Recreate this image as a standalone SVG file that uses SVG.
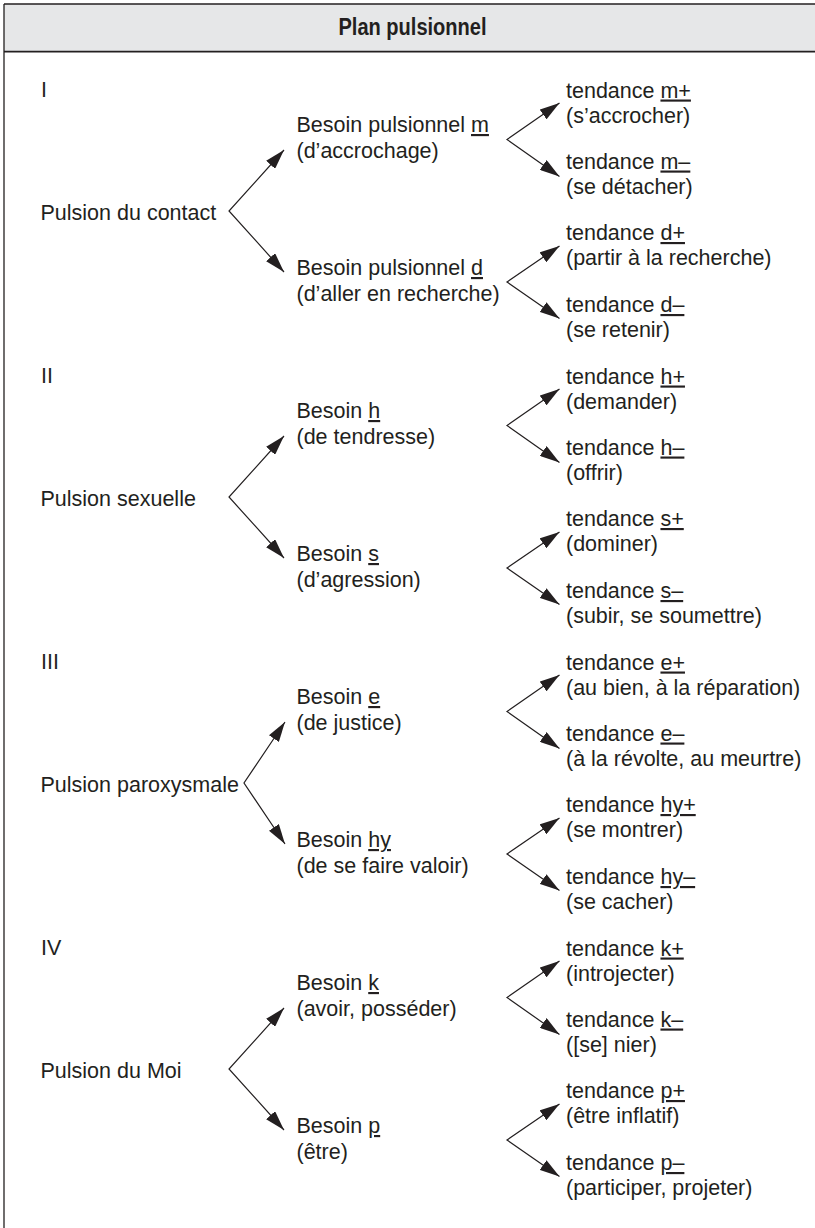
<svg xmlns="http://www.w3.org/2000/svg" width="815" height="1228" viewBox="0 0 815 1228">
<style>
.t { font-family: "Liberation Sans", Arial, sans-serif; font-size: 21.5px; fill: #231f20; }
.h { font-family: "Liberation Sans", Arial, sans-serif; font-size: 23px; font-weight: bold; fill: #231f20; }
.u { text-decoration: underline; }
.c { fill: none; stroke: #231f20; stroke-width: 1.2; stroke-linejoin: miter; marker-start: url(#ahs); marker-end: url(#ah); }
</style>
<defs>
<marker id="ah" markerUnits="userSpaceOnUse" markerWidth="20" markerHeight="12" viewBox="0 0 20 12" refX="20" refY="6" orient="auto">
<path d="M0,0 L20,6 L0,12 z" fill="#231f20"/>
</marker>
<marker id="ahs" markerUnits="userSpaceOnUse" markerWidth="20" markerHeight="12" viewBox="0 0 20 12" refX="20" refY="6" orient="auto-start-reverse">
<path d="M0,0 L20,6 L0,12 z" fill="#231f20"/>
</marker>
</defs>
<rect width="815" height="1228" fill="#ffffff"/>
<g id="frame">
<rect x="4" y="4" width="830" height="47.7" fill="#e6e7e8"/>
<line x1="4" y1="4" x2="815" y2="4" stroke="#231f20" stroke-width="1.5"/>
<line x1="4" y1="51.7" x2="815" y2="51.7" stroke="#231f20" stroke-width="1.8"/>
<line x1="4" y1="4" x2="4" y2="1228" stroke="#231f20" stroke-width="1.3"/>
</g>
<g id="title"><text class="h" x="412.5" y="35" text-anchor="middle" textLength="148" lengthAdjust="spacingAndGlyphs">Plan pulsionnel</text></g>

<g id="connectors">
<path class="c" d="M284,150 L229,211 L284,272"/>
<path class="c" d="M559.5,103 L507,139.5 L559.5,176.5"/>
<path class="c" d="M559.5,246 L507,282 L559.5,318.5"/>

<path class="c" d="M284,436 L229,497 L284,558"/>
<path class="c" d="M559.5,389 L507,425.5 L559.5,462.5"/>
<path class="c" d="M559.5,532 L507,568 L559.5,604.5"/>

<path class="c" d="M285,722 L244,783 L285,844"/>
<path class="c" d="M559.5,675 L507,711.5 L559.5,748.5"/>
<path class="c" d="M559.5,818 L507,854 L559.5,890.5"/>

<path class="c" d="M284,1008 L229,1069 L284,1130"/>
<path class="c" d="M559.5,961 L507,997.5 L559.5,1034.5"/>
<path class="c" d="M559.5,1104 L507,1140 L559.5,1176.5"/>
</g>

<!-- Section I -->
<g id="num-I"><text class="t" x="41" y="97">I</text></g>
<g id="pulsion-contact"><text class="t" x="40.5" y="220">Pulsion du contact</text></g>
<g id="besoin-m"><text class="t" x="296.5" y="132">Besoin pulsionnel <tspan class="u">m</tspan></text><text class="t" x="296.5" y="158">(d’accrochage)</text></g>
<g id="besoin-d"><text class="t" x="296.5" y="275">Besoin pulsionnel <tspan class="u">d</tspan></text><text class="t" x="296.5" y="301">(d’aller en recherche)</text></g>
<g id="tendance-m-plus"><text class="t" x="566" y="97.5">tendance <tspan class="u">m+</tspan></text><text class="t" x="566" y="123">(s’accrocher)</text></g>
<g id="tendance-m-minus"><text class="t" x="566" y="168.5">tendance <tspan class="u">m–</tspan></text><text class="t" x="566" y="193.5">(se détacher)</text></g>
<g id="tendance-d-plus"><text class="t" x="566" y="240">tendance <tspan class="u">d+</tspan></text><text class="t" x="566" y="265">(partir à la recherche)</text></g>
<g id="tendance-d-minus"><text class="t" x="566" y="312">tendance <tspan class="u">d–</tspan></text><text class="t" x="566" y="337">(se retenir)</text></g>

<!-- Section II -->
<g id="num-II"><text class="t" x="41" y="383">II</text></g>
<g id="pulsion-sexuelle"><text class="t" x="40.5" y="506">Pulsion sexuelle</text></g>
<g id="besoin-h"><text class="t" x="296.5" y="418">Besoin <tspan class="u">h</tspan></text><text class="t" x="296.5" y="444">(de tendresse)</text></g>
<g id="besoin-s"><text class="t" x="296.5" y="561">Besoin <tspan class="u">s</tspan></text><text class="t" x="296.5" y="587">(d’agression)</text></g>
<g id="tendance-h-plus"><text class="t" x="566" y="383.5">tendance <tspan class="u">h+</tspan></text><text class="t" x="566" y="409">(demander)</text></g>
<g id="tendance-h-minus"><text class="t" x="566" y="454.5">tendance <tspan class="u">h–</tspan></text><text class="t" x="566" y="479.5">(offrir)</text></g>
<g id="tendance-s-plus"><text class="t" x="566" y="526">tendance <tspan class="u">s+</tspan></text><text class="t" x="566" y="551">(dominer)</text></g>
<g id="tendance-s-minus"><text class="t" x="566" y="598">tendance <tspan class="u">s–</tspan></text><text class="t" x="566" y="623">(subir, se soumettre)</text></g>

<!-- Section III -->
<g id="num-III"><text class="t" x="41" y="669">III</text></g>
<g id="pulsion-paroxysmale"><text class="t" x="40.5" y="792">Pulsion paroxysmale</text></g>
<g id="besoin-e"><text class="t" x="296.5" y="704">Besoin <tspan class="u">e</tspan></text><text class="t" x="296.5" y="730">(de justice)</text></g>
<g id="besoin-hy"><text class="t" x="296.5" y="847">Besoin <tspan class="u">hy</tspan></text><text class="t" x="296.5" y="873">(de se faire valoir)</text></g>
<g id="tendance-e-plus"><text class="t" x="566" y="669.5">tendance <tspan class="u">e+</tspan></text><text class="t" x="566" y="695">(au bien, à la réparation)</text></g>
<g id="tendance-e-minus"><text class="t" x="566" y="740.5">tendance <tspan class="u">e–</tspan></text><text class="t" x="566" y="765.5">(à la révolte, au meurtre)</text></g>
<g id="tendance-hy-plus"><text class="t" x="566" y="812">tendance <tspan class="u">hy+</tspan></text><text class="t" x="566" y="837">(se montrer)</text></g>
<g id="tendance-hy-minus"><text class="t" x="566" y="884">tendance <tspan class="u">hy–</tspan></text><text class="t" x="566" y="909">(se cacher)</text></g>

<!-- Section IV -->
<g id="num-IV"><text class="t" x="41" y="955">IV</text></g>
<g id="pulsion-moi"><text class="t" x="40.5" y="1078">Pulsion du Moi</text></g>
<g id="besoin-k"><text class="t" x="296.5" y="990">Besoin <tspan class="u">k</tspan></text><text class="t" x="296.5" y="1016">(avoir, posséder)</text></g>
<g id="besoin-p"><text class="t" x="296.5" y="1133">Besoin <tspan class="u">p</tspan></text><text class="t" x="296.5" y="1159">(être)</text></g>
<g id="tendance-k-plus"><text class="t" x="566" y="955.5">tendance <tspan class="u">k+</tspan></text><text class="t" x="566" y="981">(introjecter)</text></g>
<g id="tendance-k-minus"><text class="t" x="566" y="1026.5">tendance <tspan class="u">k–</tspan></text><text class="t" x="566" y="1051.5">([se] nier)</text></g>
<g id="tendance-p-plus"><text class="t" x="566" y="1098">tendance <tspan class="u">p+</tspan></text><text class="t" x="566" y="1123">(être inflatif)</text></g>
<g id="tendance-p-minus"><text class="t" x="566" y="1170">tendance <tspan class="u">p–</tspan></text><text class="t" x="566" y="1195">(participer, projeter)</text></g>
</svg>
